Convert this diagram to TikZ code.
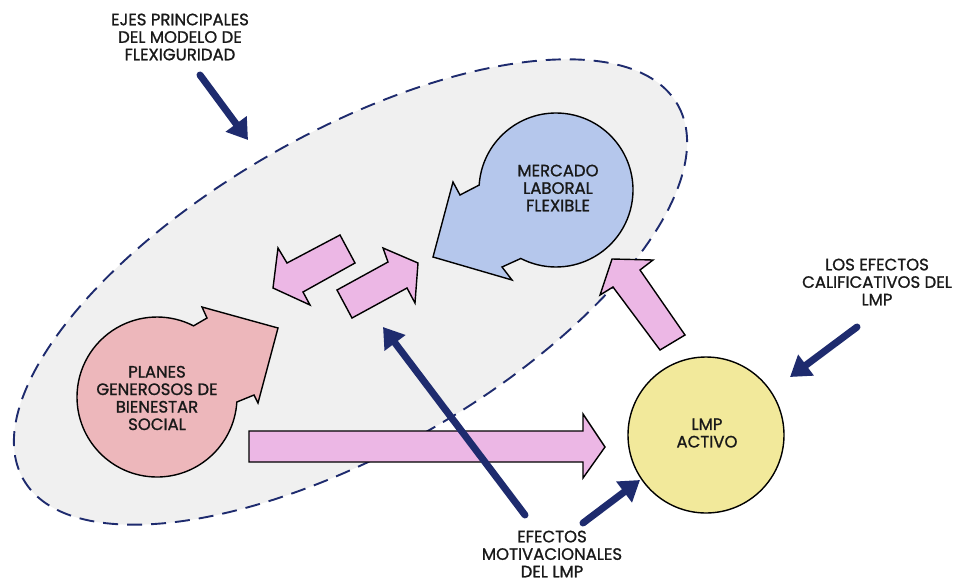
\documentclass[tikz,border=0pt]{standalone}
\usepackage{fontspec}
\setmainfont{Poppins}[FakeBold=1.1]
\usetikzlibrary{arrows.meta,calc}
\definecolor{navy}{RGB}{30,43,110}
\definecolor{zonefill}{RGB}{240,240,240}
\definecolor{rosefill}{RGB}{237,183,187}
\definecolor{skyfill}{RGB}{181,199,236}
\definecolor{lemonfill}{RGB}{242,233,155}
\definecolor{orchid}{RGB}{236,183,229}
\tikzset{
  lbl/.style={align=center, font=\fontsize{16.5}{17.5}\selectfont, text=black!90, inner sep=0pt},
  shapeline/.style={draw=black, line width=1.4pt, line join=miter},
  flowarrow/.style={shapeline, fill=orchid},
  pointer/.style={draw=navy, line width=7pt, line cap=round,
    -{Triangle[length=20pt,width=25pt]}},
}
\begin{document}
\begin{tikzpicture}[x=1pt,y=-1pt]
\useasboundingbox (0,0) rectangle (960,584);
\fill[white] (0,0) rectangle (960,584);

% dashed zone of the main axes
\draw[navy, fill=zonefill, line width=1.9pt, dash pattern=on 15pt off 9pt,
  rotate around={29.8:(350.5,292)}] (350.5,292) ellipse (377 and 159);

% circle with arrow: social welfare plans
\coordinate (pc) at (157,397);
\draw[shapeline, fill=rosefill] ($(pc)+(3.6:80)$) arc[start angle=3.6, end angle=297.2, radius=80]
  -- (207,318) -- (202,307) -- (278,328) -- (258,403) -- (254,395) -- cycle;
% circle with arrow: flexible labour market
\coordinate (mc) at (556,190);
\draw[shapeline, fill=skyfill] ($(mc)+(183.7:77)$) arc[start angle=183.7, end angle=477.2, radius=77]
  -- (502,267) -- (512,280) -- (433,257) -- (453,182) -- (460,195) -- cycle;
% active LMP
\node[circle, shapeline, fill=lemonfill, minimum size=156pt, inner sep=0pt] (lmp) at (706,435) {};

% pink flow arrows
\draw[flowarrow] (249,431) -- (583,431) -- (583,414) -- (605,447) -- (583,478) -- (583,462) -- (249,462) -- cycle;
\draw[flowarrow] (685,335) -- (640,270) -- (653,260) -- (612,259) -- (600,295) -- (613,287) -- (660,350) -- cycle;
\draw[flowarrow] (340,235) -- (355,263) -- (303,292) -- (310,305) -- (273,288) -- (278,248) -- (287,263) -- cycle;
\draw[flowarrow] (337,290) -- (388,262) -- (383,248) -- (418,263) -- (415,303) -- (407,288) -- (352,318) -- cycle;

% texts
\node[lbl] (planes) at (157,398) {PLANES\\GENEROSOS DE\\BIENESTAR\\SOCIAL};
\node[lbl] (mercado) at (558,188) {MERCADO\\LABORAL\\FLEXIBLE};
\node[lbl] (activo) at (707,433) {LMP\\ACTIVO};
\node[lbl] (ejes) at (180,37) {EJES PRINCIPALES\\DEL MODELO DE\\FLEXIGURIDAD};
\node[lbl] (calif) at (877,282) {LOS EFECTOS\\CALIFICATIVOS DEL\\LMP};
\node[lbl] (motiv) at (552,554) {EFECTOS\\MOTIVACIONALES\\DEL LMP};

% navy pointers
\coordinate (e1) at (200,75);   \coordinate (e1t) at (248,140);
\coordinate (c1) at (857,327);  \coordinate (c1t) at (790,377);
\coordinate (m1) at (525,515);  \coordinate (m1t) at (383,327);
\coordinate (m2) at (583,523);  \coordinate (m2t) at (640,480);
\draw[pointer] (e1) -- (e1t);
\draw[pointer] (c1) -- (c1t);
\draw[pointer] (m1) -- (m1t);
\draw[pointer] (m2) -- (m2t);
\end{tikzpicture}
\end{document}
